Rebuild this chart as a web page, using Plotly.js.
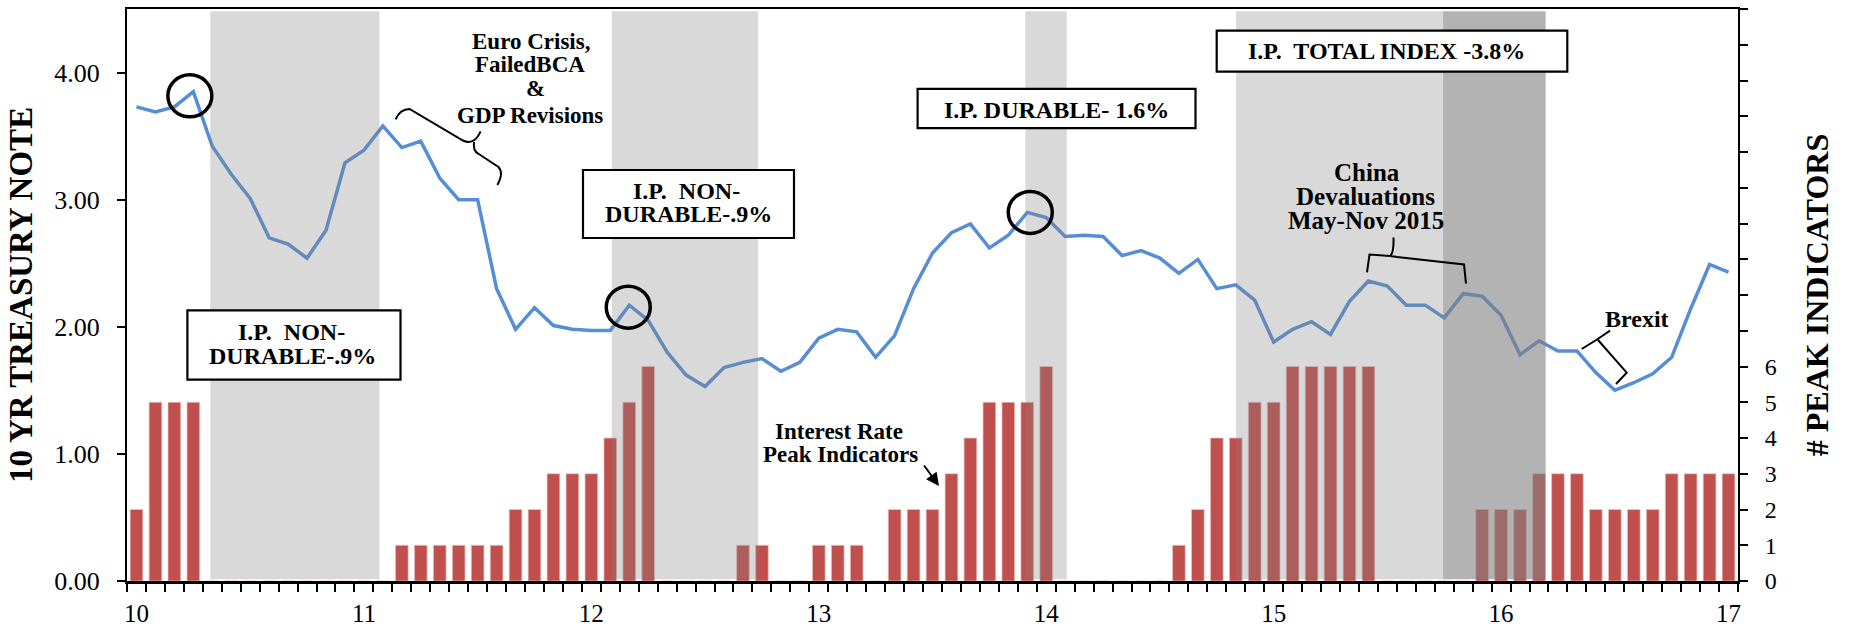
<!DOCTYPE html>
<html>
<head>
<meta charset="utf-8">
<script src="https://cdn.plot.ly/plotly-3.0.1.min.js"></script>
<style>
html,body{margin:0;padding:0;background:#fff;}
#chart{width:1852px;height:628px;}
</style>
</head>
<body>
<div id="chart"></div>
<script>
// ---------- DATA ----------
// Monthly categories Jan 2010 .. Jan 2017
const years = ['2010','2011','2012','2013','2014','2015','2016'];
const monthNames = ['Jan','Feb','Mar','Apr','May','Jun','Jul','Aug','Sep','Oct','Nov','Dec'];
const categories = [];
years.forEach(y => monthNames.forEach(m => categories.push(m + ' ' + y)));
categories.push('Jan 2017');

// 10 YR treasury note yield (left axis)
const treasury10y = [
  3.73,3.69,3.73,3.85,3.42,3.20,3.01,2.70,2.65,2.54,2.76,3.29,
  3.39,3.58,3.41,3.46,3.17,3.00,3.00,2.30,1.98,2.15,2.01,1.98,
  1.97,1.97,2.17,2.05,1.80,1.62,1.53,1.68,1.72,1.75,1.65,1.72,
  1.91,1.98,1.96,1.76,1.93,2.30,2.58,2.74,2.81,2.62,2.72,2.90,
  2.86,2.71,2.72,2.71,2.56,2.60,2.54,2.42,2.53,2.30,2.33,2.21,
  1.88,1.98,2.04,1.94,2.20,2.36,2.32,2.17,2.17,2.07,2.26,2.24,
  2.09,1.78,1.89,1.81,1.81,1.64,1.50,1.56,1.63,1.76,2.14,2.49,
  2.43
];

// # of interest-rate peak indicators (right axis)
const peakIndicators = [
  2,5,5,5,0,0,0,0,0,0,0,0,
  0,0,1,1,1,1,1,1,2,2,3,3,
  3,4,5,6,0,0,0,0,1,1,0,0,
  1,1,1,0,2,2,2,3,4,5,5,5,
  6,0,0,0,0,0,0,1,2,4,4,5,
  5,6,6,6,6,6,0,0,0,0,0,2,
  2,2,3,3,3,2,2,2,2,3,3,3,
  3
];

// x-axis tick labels (shown at each January)
const tickLabels = ['10','11','12','13','14','15','16','17'];
const rightTickLabels = ['0','1','2','3','4','5','6'];
const leftTicks = [0,1,2,3,4];

// Shaded periods (in month-index units)
const lightShadeStart = [3.89, 25.08, 46.9, 58.02];
const lightShadeEnd   = [12.82, 32.8, 49.08, 68.94];
const darkShadeStart  = [68.94];
const darkShadeEnd    = [74.35];

// Circled peaks (month indices)
const circledPeaks = [3, 26, 47];

// ---------- LAYOUT HELPERS ----------
const SERIF = '"Liberation Serif", "Times New Roman", serif';
const L = 127, R = 1738, T = 9, B = 581;
const W = R - L, H = B - T;
const pxX = x => (x - L) / W;
const pxY = y => (B - y) / H;
const P = (x, y) => pxX(x).toFixed(5) + ',' + pxY(y).toFixed(5);

const xIdx = categories.map((c, i) => i);
const janIdx = tickLabels.map((t, k) => k * 12);

// ---------- TRACES ----------
const bars = {
  type: 'bar',
  x: xIdx,
  y: peakIndicators,
  yaxis: 'y',
  marker: {color: '#C0504D', line: {color: 'rgba(236,196,195,0.9)', width: 0.8}},
  hoverinfo: 'skip',
  name: '# Peak Indicators'
};
const line = {
  type: 'scatter',
  mode: 'lines',
  x: xIdx,
  y: treasury10y,
  yaxis: 'y2',
  line: {color: '#558ED5', width: 3.5},
  name: '10 YR Treasury Note'
};

// ---------- SHAPES ----------
const shapes = [];
lightShadeStart.forEach((s, k) => shapes.push({
  type: 'rect', xref: 'x', yref: 'paper', x0: s, x1: lightShadeEnd[k], y0: 0.003, y1: 0.996,
  fillcolor: 'rgba(128,128,128,0.3)', line: {width: 0}, layer: 'above'
}));
darkShadeStart.forEach((s, k) => shapes.push({
  type: 'rect', xref: 'x', yref: 'paper', x0: s, x1: darkShadeEnd[k], y0: 0.003, y1: 0.996,
  fillcolor: 'rgba(128,128,128,0.6)', line: {width: 0}, layer: 'above'
}));

// annotation boxes (pixel boxes)
const boxes = [
  [187.4, 310.4, 400.5, 379.7],
  [583, 170, 794, 238],
  [917.6, 88.9, 1195.5, 128.2],
  [1216.7, 30.7, 1567.3, 71.7]
];
boxes.forEach(b => shapes.push({
  type: 'rect', xref: 'paper', yref: 'paper',
  x0: pxX(b[0]), x1: pxX(b[2]), y0: pxY(b[3]), y1: pxY(b[1]),
  fillcolor: '#ffffff', line: {color: '#000', width: 2.2}, layer: 'above'
}));

// circles around peaks
const circleOffsets = [[-3.5, -4.2], [-1, -2], [3, 0]];
circledPeaks.forEach((i, k) => shapes.push({
  type: 'circle', xref: 'x', yref: 'y2', xsizemode: 'pixel', ysizemode: 'pixel',
  xanchor: i, yanchor: treasury10y[i],
  x0: circleOffsets[k][0] - 22, x1: circleOffsets[k][0] + 22,
  y0: circleOffsets[k][1] - 21, y1: circleOffsets[k][1] + 21,
  line: {color: '#000', width: 3.5}, layer: 'above'
}));

// braces
const bracePaths = [
  'M' + P(395.7,119.3) + ' Q' + P(400,109) + ' ' + P(409.5,108.9) + ' L' + P(463,140.5) +
  ' Q' + P(474,146) + ' ' + P(480.6,131.4) +
  ' M' + P(474,142) + ' Q' + P(473,151) + ' ' + P(478,153.5) + ' L' + P(498.5,167) +
  ' Q' + P(504,173) + ' ' + P(497.4,185),
  'M' + P(1367,272.4) + ' L' + P(1369.5,254.6) + ' L' + P(1390,256) + ' Q' + P(1394,253) + ' ' + P(1393.5,237.5) +
  ' M' + P(1391,256.2) + ' Q' + P(1395,256.5) + ' ' + P(1397,257) + ' L' + P(1464,264.4) + ' L' + P(1466,283.7),
  'M' + P(1581.7,349) + ' L' + P(1597,339.5) + ' L' + P(1610,330.7) +
  ' M' + P(1598,340) + ' L' + P(1626.7,372.7) + ' L' + P(1616,384)
];
bracePaths.forEach(p => shapes.push({
  type: 'path', xref: 'paper', yref: 'paper', path: p,
  line: {color: '#000', width: 2}, layer: 'above'
}));

// ---------- ANNOTATIONS ----------
const NB = '\u00a0';
const texts = [
  ['I.P.' + NB + ' NON-', 291, 332.4, 24],
  ['DURABLE-.9%', 292, 356.4, 24],
  ['I.P.' + NB + ' NON-', 686.7, 191.3, 24],
  ['DURABLE-.9%', 688, 214.3, 24],
  ['I.P. DURABLE- 1.6%', 1056.5, 109.5, 24],
  ['I.P.' + NB + ' TOTAL INDEX -3.8%', 1386, 51.5, 24],
  ['Euro Crisis,', 530.6, 41.2, 23],
  ['FailedBCA', 529.6, 64.5, 23],
  ['&', 535, 88.5, 23],
  ['GDP Revisions', 530.4, 115.3, 23],
  ['China', 1366.7, 172.7, 25],
  ['Devaluations', 1365.4, 196.7, 25],
  ['May-Nov 2015', 1366, 220.8, 25],
  ['Interest Rate', 838.9, 431.3, 23],
  ['Peak Indicators', 840.3, 454.5, 23],
  ['Brexit', 1637, 319, 24]
];
const annotations = texts.map(t => ({
  text: t[0], xref: 'paper', yref: 'paper', x: pxX(t[1]), y: pxY(t[2]),
  xanchor: 'center', yanchor: 'middle', showarrow: false,
  font: {family: SERIF, size: t[3], color: '#000', weight: 'bold'}
}));
// arrow to the bars
annotations.push({
  text: '', xref: 'paper', yref: 'paper', x: pxX(939), y: pxY(486),
  ax: -16, ay: -22, showarrow: true, arrowhead: 2, arrowsize: 1.3, arrowwidth: 2, arrowcolor: '#000'
});

// ---------- LAYOUT ----------
const layout = {
  width: 1852, height: 628,
  margin: {l: L, r: 1852 - R, t: T, b: 628 - B, pad: 0},
  paper_bgcolor: '#fff', plot_bgcolor: '#fff',
  showlegend: false,
  bargap: 0.33,
  font: {family: SERIF, color: '#000'},
  xaxis: {
    range: [-0.5, categories.length - 0.5],
    tickmode: 'array', tickvals: janIdx, ticktext: tickLabels,
    ticks: '', ticklabelstandoff: 8,
    tickfont: {family: SERIF, size: 25, color: '#000'},
    showgrid: false, zeroline: false,
    showline: true, linecolor: '#000', linewidth: 2.5, mirror: true,
    minor: {tickmode: 'linear', tick0: -0.5, dtick: 1, ticks: 'outside', ticklen: 8, tickwidth: 2, tickcolor: '#000', showgrid: false},
    fixedrange: true
  },
  yaxis: {
    side: 'right', range: [0, 16],
    tickmode: 'array', tickvals: [...Array(17).keys()],
    ticktext: [...Array(17).keys()].map(v => v < rightTickLabels.length ? rightTickLabels[v] : ''),
    ticks: 'outside', ticklen: 8, tickwidth: 2, tickcolor: '#000',
    ticklabelstandoff: 12,
    tickfont: {family: SERIF, size: 24, color: '#000'},
    showgrid: false, zeroline: false, showline: true, linecolor: '#000', linewidth: 2,
    title: {text: '# PEAK INDICATORS', font: {family: SERIF, size: 32, color: '#000', weight: 'bold'}, standoff: 30},
    fixedrange: true
  },
  yaxis2: {
    overlaying: 'y', side: 'left', range: [0, 4.5],
    tickmode: 'array', tickvals: leftTicks, tickformat: '.2f',
    ticks: 'outside', ticklen: 8, tickwidth: 2, tickcolor: '#000',
    ticklabelstandoff: 12,
    tickfont: {family: SERIF, size: 26, color: '#000'},
    showgrid: false, zeroline: false, showline: true, linecolor: '#000', linewidth: 2,
    title: {text: '10 YR TREASURY NOTE', font: {family: SERIF, size: 33, color: '#000', weight: 'bold'}, standoff: 12},
    fixedrange: true
  },
  shapes: shapes,
  annotations: annotations
};

Plotly.newPlot('chart', [bars, line], layout, {displayModeBar: false, staticPlot: true});
</script>
</body>
</html>
